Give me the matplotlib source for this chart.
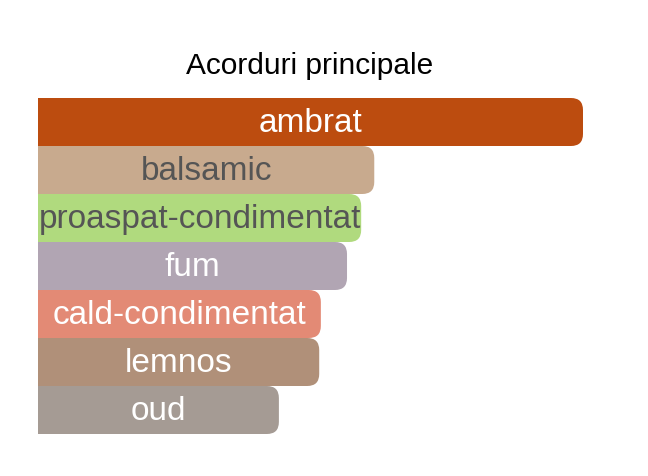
import matplotlib.pyplot as plt
from matplotlib.patches import FancyBboxPatch

# %% Data
accords = ["ambrat", "balsamic", "proaspat-condimentat", "fum",
           "cald-condimentat", "lemnos", "oud"]
values = [100, 61.7, 59.3, 56.7, 51.9, 51.6, 44.2]
colors = ["#BC4C0F", "#C8AA8E", "#B0DA7E", "#B1A5B3",
          "#E38A75", "#B09079", "#A59B94"]
text_colors = ["white", "#555555", "#555555", "white", "white", "white", "white"]

plt.rcParams["font.family"] = ["Liberation Sans", "DejaVu Sans"]

# %% Plot
W, H = 648, 476
fig = plt.figure(figsize=(W / 100, H / 100), dpi=100)
left, right, top, bottom = 38, 620, 98, 434
ax = fig.add_axes([left / W, 1 - bottom / H, (right - left) / W, (bottom - top) / H])

xmax = 100 * (right - left) / (583 - left)
ax.set_xlim(0, xmax)
ax.set_ylim(len(accords) - 0.5, -0.5)
ax.axis("off")

px_x = xmax / (right - left)  # data units per pixel in x
rad = 12 * px_x
aspect = (1 / 48) / px_x

bars = ax.barh(range(len(accords)), values, height=1.0, color="none")
for bar, c, name, tc in zip(bars, colors, accords, text_colors):
    x, y = bar.get_x(), bar.get_y()
    w, h = bar.get_width(), bar.get_height()
    box = FancyBboxPatch((x - 3 * rad, y), w + 3 * rad, h,
                         boxstyle=f"round,pad=0,rounding_size={rad}",
                         mutation_aspect=aspect, facecolor=c, edgecolor="none")
    ax.add_patch(box)
    box.set_clip_path(ax.patch)
    ax.text(x + w / 2, y + h / 2 + 0.04, name, ha="center", va="center",
            color=tc, fontsize=24)

fig.text(310 / W, 1 - 66 / H, "Acorduri principale", ha="center", va="center",
         fontsize=21.5, color="black")

fig.savefig("out.png", dpi=100)
